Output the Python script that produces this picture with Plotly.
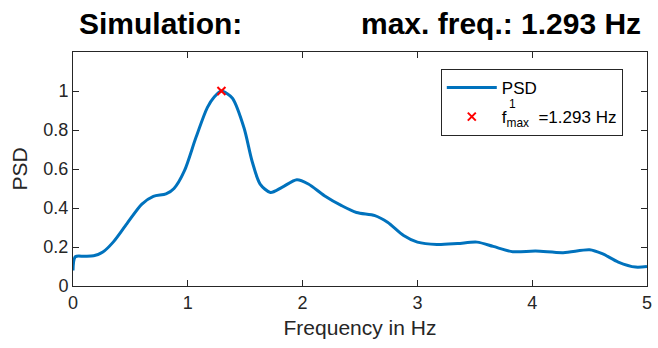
import plotly.graph_objects as go

freq = [0, 0.02, 0.1, 0.18, 0.26, 0.35, 0.47, 0.6, 0.7, 0.81, 0.88, 0.97, 1.07, 1.17,
        1.23, 1.293, 1.344, 1.39, 1.49, 1.56, 1.63, 1.72, 1.82, 1.95, 2.05, 2.19, 2.34,
        2.47, 2.63, 2.74, 2.88, 3.0, 3.17, 3.35, 3.52, 3.66, 3.83, 4.03, 4.27, 4.5, 4.61,
        4.75, 4.9, 5.0]
psd = [0.08, 0.15, 0.152, 0.155, 0.174, 0.225, 0.32, 0.42, 0.46, 0.472, 0.50, 0.59, 0.76,
       0.915, 0.969, 1.0, 0.986, 0.962, 0.81, 0.64, 0.523, 0.48, 0.506, 0.545, 0.523,
       0.463, 0.412, 0.377, 0.361, 0.327, 0.259, 0.225, 0.213, 0.218, 0.225, 0.203,
       0.176, 0.179, 0.171, 0.186, 0.166, 0.123, 0.097, 0.1]
peak_f = [1.293]
peak_v = [1.0]
x_ticks = [0, 1, 2, 3, 4, 5]
y_ticks = [0, 0.2, 0.4, 0.6, 0.8, 1]
y_tick_labels = ["0", "0.2", "0.4", "0.6", "0.8", "1"]

AX = "#262626"
FONT = "Liberation Sans, Arial, sans-serif"

fig = go.Figure()
fig.add_trace(go.Scatter(
    x=freq, y=psd, mode="lines", name="PSD", legendgroup="a",
    line=dict(color="#0072BD", width=3, shape="spline", smoothing=0.8),
))
fig.add_trace(go.Scatter(
    x=peak_f, y=peak_v, mode="markers",
    name="f<sub>max</sub>\u00a0\u00a0=1.293 Hz", legendgroup="b",
    marker=dict(symbol="x-thin", size=8, line=dict(color="#FF0000", width=2), color="#FF0000"),
))

L, R, T, B = 73, 6, 52, 62
W, H = 658, 348
pw, ph = W - L - R, H - T - B

def px(xp):
    return (xp - L) / pw

def py(yp):
    return 1 - (yp - T) / ph

fig.update_layout(
    width=W, height=H,
    margin=dict(l=L, r=R, t=T, b=B, pad=0),
    paper_bgcolor="white", plot_bgcolor="white",
    font=dict(family=FONT, color=AX, size=18),
    showlegend=True,
    legend=dict(
        x=px(444), y=py(69), xanchor="left", yanchor="top",
        bordercolor=AX, borderwidth=1, bgcolor="white",
        font=dict(size=17, color="black", family=FONT),
        tracegroupgap=4, itemwidth=50,
    ),
    xaxis=dict(
        range=[0, 5], tickvals=x_ticks, ticks="inside", ticklen=6, tickcolor=AX,
        showline=True, linecolor=AX, linewidth=1, mirror="ticks", showgrid=False,
        zeroline=False, tickfont=dict(size=18, color=AX),
        title=dict(text="Frequency in Hz", font=dict(size=21, color=AX), standoff=8),
    ),
    yaxis=dict(
        range=[0, 1.2], tickvals=y_ticks, ticktext=y_tick_labels, ticks="inside",
        ticklen=6, tickcolor=AX, showline=True, linecolor=AX, linewidth=1,
        mirror="ticks", showgrid=False, zeroline=False, tickfont=dict(size=18, color=AX),
        title=dict(text="PSD", font=dict(size=21, color=AX), standoff=10),
    ),
    annotations=[
        dict(text="<b>Simulation:</b>", xref="paper", yref="paper", x=px(77), y=py(23),
             xanchor="left", yanchor="middle", showarrow=False,
             font=dict(size=30, color="black", family=FONT)),
        dict(text="<b>max. freq.: 1.293 Hz</b>", xref="paper", yref="paper", x=px(648),
             y=py(23), xanchor="right", yanchor="middle", showarrow=False,
             font=dict(size=30, color="black", family=FONT)),
        dict(text="1", xref="paper", yref="paper", x=px(516), y=py(104),
             xanchor="center", yanchor="middle", showarrow=False,
             font=dict(size=12, color="black", family=FONT)),
    ],
)

fig.write_html("out.html")
